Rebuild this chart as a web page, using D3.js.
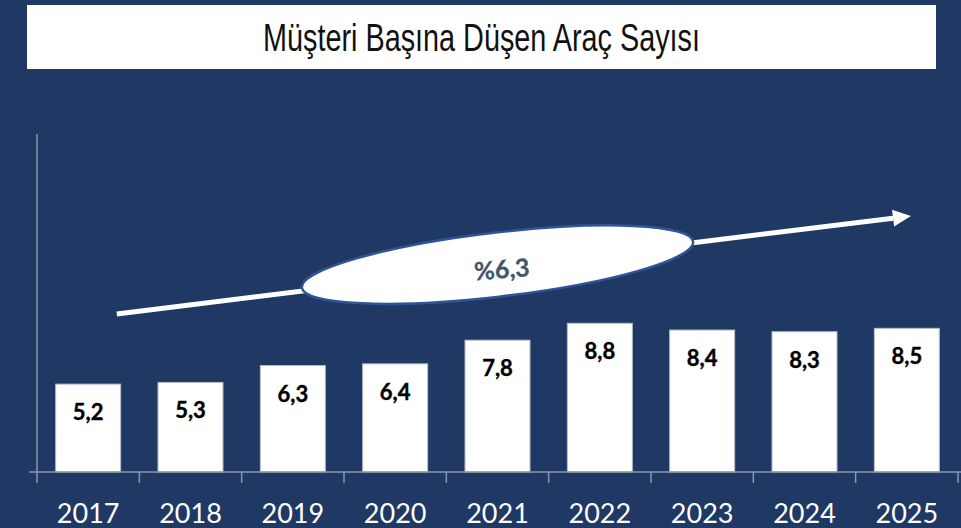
<!DOCTYPE html>
<html>
<head>
<meta charset="utf-8">
<script src="https://cdn.jsdelivr.net/npm/d3@7"></script>
<style>
  html, body { margin: 0; padding: 0; background: #203864; }
  svg { display: block; }
</style>
</head>
<body>
<svg id="chart" width="961" height="528"></svg>
<script>
// ---- data ----
const title = "Müşteri Başına Düşen Araç Sayısı";
const years = ["2017", "2018", "2019", "2020", "2021", "2022", "2023", "2024", "2025"];
const values = [5.2, 5.3, 6.3, 6.4, 7.8, 8.8, 8.4, 8.3, 8.5];
const valueLabels = ["5,2", "5,3", "6,3", "6,4", "7,8", "8,8", "8,4", "8,3", "8,5"];
const yDomain = [0, 20];
const cagrLabel = "%6,3";
// annotation anchor points in chart units: [category position (bands), value]
const trendStart = [0.78, 9.35];
const trendEnd = [8.54, 15.15];
const bubbleCenter = [4.5, 12.27];

// ---- layout ----
const W = 961, H = 528;
const bg = "#203864";
const svg = d3.select("#chart");
svg.append("rect").attr("width", W).attr("height", H).attr("fill", bg);

// title box
svg.append("rect").attr("x", 27).attr("y", 5).attr("width", 909).attr("height", 64).attr("fill", "#ffffff");
svg.append("text").attr("x", 263).attr("y", 51)
  .attr("font-family", "'Liberation Sans Narrow', 'Arial Narrow', 'Liberation Sans', sans-serif")
  .attr("font-size", 38).attr("fill", "#111")
  .attr("textLength", 437).attr("lengthAdjust", "spacingAndGlyphs").text(title);

const plot = { left: 37, right: 958, top: 134, bottom: 472 };
const x = d3.scaleBand().domain(years).range([plot.left, plot.right]).paddingInner(0.365).paddingOuter(0.1825);
const y = d3.scaleLinear().domain(yDomain).range([plot.bottom, plot.top]);
const pos = d3.scaleLinear().domain([0, years.length]).range([plot.left, plot.right]);

const axisColor = "#8c96a8";
// y axis line
svg.append("line").attr("x1", plot.left).attr("x2", plot.left).attr("y1", y(yDomain[1])).attr("y2", y(0))
  .attr("stroke", axisColor).attr("stroke-width", 1.5);

// bars
svg.append("g").selectAll("rect").data(years).join("rect")
  .attr("x", d => x(d)).attr("width", x.bandwidth())
  .attr("y", (d, i) => y(values[i])).attr("height", (d, i) => y(0) - y(values[i]))
  .attr("fill", "#ffffff").attr("stroke", "#b7bcc6").attr("stroke-width", 1);

// value labels
svg.append("g").selectAll("text").data(years).join("text")
  .attr("x", d => x(d) + x.bandwidth() / 2).attr("y", (d, i) => y(values[i]) + 36)
  .attr("text-anchor", "middle").attr("font-family", "Lato, 'Open Sans', sans-serif")
  .attr("font-weight", "bold").attr("font-size", 22).attr("fill", "#000")
  .attr("stroke", "#000").attr("stroke-width", 0.4).text((d, i) => valueLabels[i]);

// x axis
svg.append("line").attr("x1", 29).attr("x2", W).attr("y1", y(0)).attr("y2", y(0))
  .attr("stroke", axisColor).attr("stroke-width", 1.5);
const tickPos = d3.range(years.length + 1).map(i => pos(i));
svg.append("g").selectAll("line").data(tickPos).join("line")
  .attr("x1", d => d).attr("x2", d => d).attr("y1", y(0)).attr("y2", y(0) + 11)
  .attr("stroke", axisColor).attr("stroke-width", 1.5);
svg.append("g").selectAll("text").data(years).join("text")
  .attr("x", d => x(d) + x.bandwidth() / 2).attr("y", 523).attr("text-anchor", "middle")
  .attr("font-family", "Lato, 'Open Sans', sans-serif").attr("font-size", 27).attr("fill", "#ffffff").text(d => d);

// trend arrow
const x0 = pos(trendStart[0]), y0 = y(trendStart[1]);
const x1 = pos(trendEnd[0]), y1 = y(trendEnd[1]);
const ang = Math.atan2(y1 - y0, x1 - x0);
const headLen = 18, headHalf = 8.5;
const bx = x1 - headLen * Math.cos(ang), by = y1 - headLen * Math.sin(ang);
svg.append("line").attr("x1", x0).attr("y1", y0).attr("x2", bx).attr("y2", by)
  .attr("stroke", "#ffffff").attr("stroke-width", 5);
const px = -Math.sin(ang), py = Math.cos(ang);
svg.append("path")
  .attr("d", `M${x1},${y1}L${bx + px * headHalf},${by + py * headHalf}L${bx - px * headHalf},${by - py * headHalf}Z`)
  .attr("fill", "#ffffff");

// bubble
const cx = pos(bubbleCenter[0]), cy = y(bubbleCenter[1]);
const deg = -6.7;
const g = svg.append("g").attr("transform", `translate(${cx},${cy}) rotate(${deg})`);
g.append("ellipse").attr("rx", 197).attr("ry", 32).attr("fill", "#ffffff")
  .attr("stroke", "#2f5597").attr("stroke-width", 2.5);
g.append("text").attr("x", 4).attr("y", 14).attr("text-anchor", "middle")
  .attr("font-family", "Lato, 'Open Sans', sans-serif").attr("font-weight", "bold")
  .attr("font-size", 25).attr("fill", "#44546a").attr("stroke", "#44546a").attr("stroke-width", 0.3)
  .attr("transform", "rotate(2)").text(cagrLabel);
</script>
</body>
</html>
